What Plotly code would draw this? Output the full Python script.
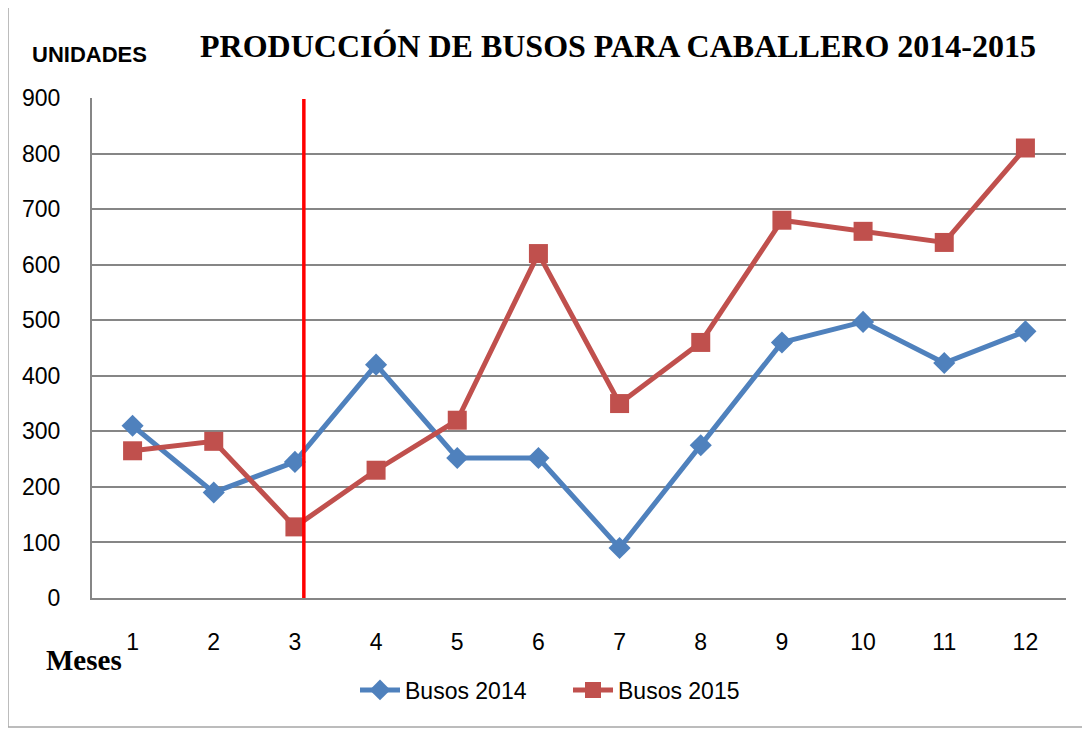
import plotly.graph_objects as go

meses = [1, 2, 3, 4, 5, 6, 7, 8, 9, 10, 11, 12]
busos_2014 = [310, 190, 245, 420, 252, 252, 90, 275, 460, 497, 423, 480]
busos_2015 = [265, 282, 128, 230, 320, 620, 350, 460, 680, 660, 640, 810]
y_ticks = [0, 100, 200, 300, 400, 500, 600, 700, 800, 900]
marca_x = 3.11  # red reference line position (between month 3 and 4)

# page body adds ~8px offset; compensate
OFF = 8
L, R, T, B = 92 - OFF, 1066 - OFF, 98 - OFF, 598 - OFF
PW, PH = R - L, B - T


def px(x):
    return (x - OFF - L) / PW


def py(y):
    return (B - (y - OFF)) / PH


fig = go.Figure()
fig.add_trace(go.Scatter(
    x=meses, y=busos_2014, name="Busos 2014", mode="lines+markers",
    line=dict(color="#4F81BD", width=5),
    marker=dict(symbol="diamond", size=17, color="#4F81BD"),
))
fig.add_trace(go.Scatter(
    x=meses, y=busos_2015, name="Busos 2015", mode="lines+markers",
    line=dict(color="#C0504D", width=5),
    marker=dict(symbol="square", size=19, color="#C0504D"),
))

fig.add_shape(type="line", xref="x", yref="y", x0=marca_x, x1=marca_x, y0=-4, y1=898,
              line=dict(color="#FF0000", width=3.5), layer="above")

# outer chart frame
fig.add_shape(type="rect", xref="paper", yref="paper",
              x0=px(8), x1=px(1110), y0=py(727), y1=py(7),
              line=dict(color="#A6A6A6", width=1.5), layer="below")

fig.update_layout(
    width=1090, height=729,
    margin=dict(l=L, r=1090 - R, t=T, b=729 - B),
    paper_bgcolor="white", plot_bgcolor="white",
    font=dict(family="Liberation Sans, Arial, sans-serif", color="black"),
    showlegend=True,
    legend=dict(orientation="h", x=px(355), xanchor="left", y=py(690), yanchor="middle",
                font=dict(size=23), itemwidth=40, traceorder="normal",
                entrywidth=158, entrywidthmode="pixels"),
    xaxis=dict(range=[0.5, 12.5], tickvals=meses, ticktext=[str(m) for m in meses],
               showgrid=False, showline=True, linecolor="#868686", linewidth=2,
               ticks="", ticklabelstandoff=22, tickfont=dict(size=23), zeroline=False),
    yaxis=dict(range=[0, 900], tickvals=y_ticks, showgrid=True, gridcolor="#868686",
               gridwidth=2, showline=True, linecolor="#868686", linewidth=2,
               ticks="", ticklabelstandoff=25, tickfont=dict(size=23), zeroline=False),
    annotations=[
        dict(text="<b>PRODUCCIÓN DE BUSOS PARA CABALLERO 2014-2015</b>", xref="paper", yref="paper",
             x=px(618), y=py(46), xanchor="center", yanchor="middle",
             showarrow=False, font=dict(family="Liberation Serif, Times New Roman, serif", size=32)),
        dict(text="<b>UNIDADES</b>", xref="paper", yref="paper",
             x=px(30), y=py(55), xanchor="left", yanchor="middle",
             showarrow=False, font=dict(size=22)),
        dict(text="<b>Meses</b>", xref="paper", yref="paper",
             x=px(44), y=py(660), xanchor="left", yanchor="middle",
             showarrow=False, font=dict(family="Liberation Serif, Times New Roman, serif", size=29)),
    ],
)

fig.write_html("out.html")
